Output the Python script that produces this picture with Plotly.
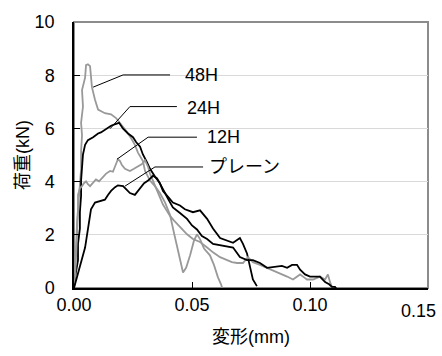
import plotly.graph_objects as go

# ---- data ----
x_48h = [0, 0.0004, 0.0008, 0.0013, 0.0021, 0.0030, 0.0030, 0.0034, 0.0030, 0.0038, 0.0034, 0.0047,
         0.0051, 0.0059, 0.0068, 0.0072, 0.0076, 0.0089, 0.0102, 0.0131, 0.0157, 0.0178, 0.0199,
         0.0220, 0.0242, 0.0258, 0.0271, 0.0292, 0.0301, 0.0322, 0.0343, 0.0364, 0.0386, 0.0407,
         0.0424, 0.0441, 0.0453, 0.0462, 0.0475, 0.0492, 0.0508, 0.0521, 0.0534, 0.0551, 0.0576,
         0.0593, 0.0610, 0.0623, 0.0636]
y_48h = [0, 0.51, 1.41, 2.49, 3.57, 4.48, 5.13, 5.74, 6.21, 6.82, 7.44, 7.91,
         8.38, 8.41, 8.34, 7.91, 7.55, 7.08, 6.71, 6.57, 6.53, 6.39, 6.17,
         5.92, 5.63, 5.38, 5.09, 4.77, 4.40, 4.04, 3.83, 3.57, 3.21, 2.74,
         2.06, 1.34, 0.83, 0.58, 0.76, 1.23, 1.77, 2.02, 1.84, 1.48, 1.23,
         0.87, 0.40, 0.14, -0.22]

x_24h = [0, 0.0000, 0.0008, 0.0017, 0.0017, 0.0025, 0.0025, 0.0030, 0.0030, 0.0034, 0.0038, 0.0047,
         0.0059, 0.0081, 0.0102, 0.0114, 0.0136, 0.0157, 0.0178, 0.0191, 0.0208, 0.0229, 0.0250,
         0.0263, 0.0280, 0.0292, 0.0309, 0.0322, 0.0343, 0.0364, 0.0377, 0.0394, 0.0419, 0.0449,
         0.0470, 0.0504, 0.0534, 0.0564, 0.0589, 0.0619, 0.0648, 0.0674, 0.0703, 0.0716, 0.0733,
         0.0746, 0.0758, 0.0775]
y_24h = [0, 0.14, 0.58, 1.05, 1.66, 2.24, 2.85, 3.47, 4.04, 4.55, 5.02, 5.38,
         5.56, 5.67, 5.81, 5.85, 5.99, 6.10, 6.17, 6.21, 5.99, 5.81, 5.67,
         5.49, 5.31, 5.02, 4.73, 4.48, 4.19, 3.94, 3.65, 3.47, 3.21, 3.10,
         2.96, 2.85, 2.92, 2.60, 2.24, 1.88, 1.77, 1.70, 1.88, 1.66, 1.30,
         0.79, 0.32, 0.07]

x_12h = [0, 0.0004, 0.0008, 0.0013, 0.0017, 0.0017, 0.0025, 0.0034, 0.0042, 0.0051, 0.0059, 0.0068,
         0.0081, 0.0093, 0.0106, 0.0119, 0.0136, 0.0153, 0.0165, 0.0178, 0.0186, 0.0195, 0.0203,
         0.0216, 0.0237, 0.0254, 0.0267, 0.0288, 0.0301, 0.0314, 0.0322, 0.0335, 0.0352, 0.0364,
         0.0377, 0.0394, 0.0407, 0.0424, 0.0436, 0.0458, 0.0479, 0.0504, 0.0534, 0.0564, 0.0589,
         0.0619, 0.0648, 0.0669, 0.0691, 0.0716, 0.0737, 0.0758, 0.0788, 0.0818, 0.0839, 0.0860,
         0.0881, 0.0903, 0.0928, 0.0945, 0.0958, 0.0975, 0.0987, 0.1013, 0.1042, 0.1064, 0.1076,
         0.1085, 0.1097]
y_12h = [0, 0.32, 1.05, 1.95, 2.85, 3.50, 3.75, 3.83, 3.94, 4.01, 3.90, 3.83,
         3.97, 4.08, 4.01, 4.12, 4.30, 4.40, 4.37, 4.66, 4.84, 4.77, 4.62,
         4.48, 4.40, 4.48, 4.55, 4.66, 4.80, 4.55, 4.30, 4.01, 3.65, 3.39,
         3.14, 2.89, 2.71, 2.53, 2.42, 2.20, 2.02, 1.84, 1.73, 1.52, 1.34,
         1.16, 1.05, 0.97, 0.94, 0.94, 1.16, 0.97, 0.87, 0.76, 0.69, 0.61,
         0.51, 0.43, 0.32, 0.43, 0.51, 0.40, 0.32, 0.32, 0.43, 0.32, 0.51,
         0.22, -0.04]

x_plain = [0, 0.0004, 0.0013, 0.0025, 0.0038, 0.0047, 0.0055, 0.0059, 0.0068, 0.0072, 0.0089, 0.0114,
           0.0131, 0.0144, 0.0157, 0.0174, 0.0186, 0.0208, 0.0225, 0.0237, 0.0258, 0.0280, 0.0297,
           0.0314, 0.0335, 0.0352, 0.0364, 0.0381, 0.0398, 0.0419, 0.0449, 0.0479, 0.0500, 0.0521,
           0.0542, 0.0564, 0.0589, 0.0631, 0.0674, 0.0703, 0.0733, 0.0758, 0.0788, 0.0818, 0.0843,
           0.0860, 0.0881, 0.0903, 0.0924, 0.0945, 0.0958, 0.0979, 0.1000, 0.1021, 0.1042, 0.1064,
           0.1081, 0.1093, 0.1106, 0.1119]
y_plain = [0, 0.14, 0.40, 0.79, 1.23, 1.52, 1.95, 2.24, 2.67, 2.96, 3.21, 3.29,
           3.32, 3.50, 3.65, 3.79, 3.86, 3.83, 3.68, 3.57, 3.50, 3.75, 3.94,
           4.04, 4.22, 4.12, 3.94, 3.65, 3.36, 3.03, 2.82, 2.60, 2.35, 2.20,
           1.95, 1.84, 1.66, 1.59, 1.52, 1.16, 1.05, 1.05, 0.94, 0.76, 0.79,
           0.79, 0.83, 0.76, 0.87, 0.87, 0.69, 0.51, 0.43, 0.43, 0.43, 0.22,
           0.14, 0.04, 0.04, -0.11]

series_names = ["48H", "24H", "12H", "プレーン"]
series_colors = ["#999999", "#000000", "#999999", "#000000"]

# label leader lines: [start on curve, bend, end] and text anchor
leader_x = [[0.0081, 0.0208, 0.0407], [0.0153, 0.0237, 0.0436],
            [0.0182, 0.0314, 0.0521], [0.0216, 0.0343, 0.0547]]
leader_y = [[7.55, 8.01, 8.01], [5.99, 6.82, 6.82],
            [4.84, 5.67, 5.67], [3.83, 4.55, 4.55]]
label_x = [0.0462, 0.0470, 0.0555, 0.0564]
label_y = [8.01, 6.78, 5.67, 4.55]

x_ticks = [0, 0.05, 0.10, 0.15]
x_ticklabels = ["0.00", "0.05", "0.10", "0.15"]
y_ticks = [0, 2, 4, 6, 8, 10]

FONT = "Liberation Sans, Noto Sans CJK JP, sans-serif"

fig = go.Figure()
xs = [x_48h, x_24h, x_12h, x_plain]
ys = [y_48h, y_24h, y_12h, y_plain]
for xv, yv, nm, col in zip(xs, ys, series_names, series_colors):
    fig.add_trace(go.Scatter(x=xv, y=yv, mode="lines", name=nm,
                             line=dict(color=col, width=1.8), showlegend=False))

for lx, ly in zip(leader_x, leader_y):
    fig.add_trace(go.Scatter(x=lx, y=ly, mode="lines", showlegend=False,
                             line=dict(color="#000000", width=1), hoverinfo="skip"))

for nm, tx, ty in zip(series_names, label_x, label_y):
    fig.add_annotation(x=tx, y=ty, xref="x", yref="y", text=nm, showarrow=False,
                       xanchor="left", yanchor="middle",
                       font=dict(family=FONT, size=18, color="#000000"))

# the last x tick label would overflow the page on the right; draw it as text nudged inward
fig.add_annotation(x=1, y=0, xref="paper", yref="paper", text=x_ticklabels[-1],
                   showarrow=False, xanchor="right", yanchor="top", xshift=10, yshift=-11,
                   font=dict(family=FONT, size=18, color="#000000"))

# plot-area frame (gray top/right)
fig.add_shape(type="rect", xref="paper", yref="paper", x0=0, y0=0, x1=1, y1=1,
              line=dict(color="#8c8c8c", width=2), layer="below")

fig.update_layout(
    width=442, height=356,
    margin=dict(l=74, r=14, t=12, b=67),
    paper_bgcolor="white", plot_bgcolor="white",
    font=dict(family=FONT, size=18, color="#000000"),
    xaxis=dict(range=[0, 0.150001], tickvals=x_ticks,
               ticktext=x_ticklabels[:-1] + [""],
               ticks="inside", ticklen=6, tickcolor="#000000",
               showline=True, linecolor="#000000", linewidth=1.5,
               showgrid=False, zeroline=False,
               title=dict(text="変形(mm)", font=dict(size=18), standoff=16),
               tickfont=dict(size=18)),
    yaxis=dict(range=[0, 10.00001], tickvals=y_ticks,
               ticks="inside", ticklen=6, tickcolor="#000000",
               ticklabelstandoff=14,
               showline=True, linecolor="#000000", linewidth=1.5,
               showgrid=True, gridcolor="#d9d9d9", gridwidth=1, zeroline=False,
               title=dict(text="荷重(kN)", font=dict(size=18), standoff=0),
               tickfont=dict(size=18)),
)

fig.write_html("out.html", config={"displayModeBar": False},
               post_script="document.body.style.margin='0';document.body.style.overflow='hidden';")
